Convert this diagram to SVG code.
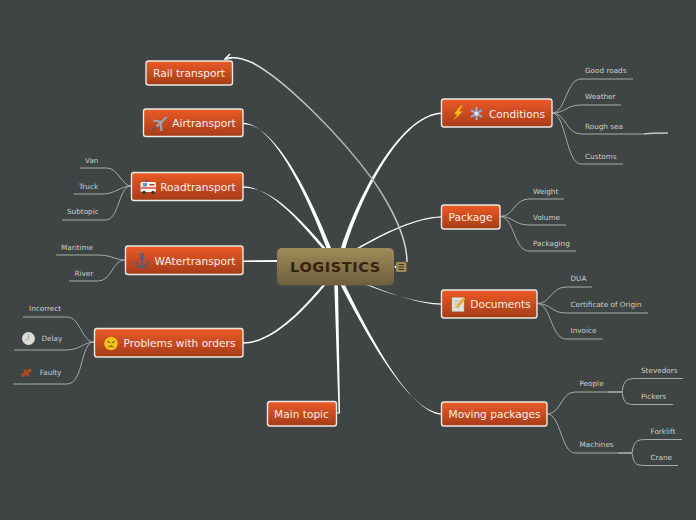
<svg xmlns="http://www.w3.org/2000/svg" width="696" height="520" viewBox="0 0 696 520">
<style>
text{font-family:"DejaVu Sans",Verdana,sans-serif}
.t{font-size:10.6px;fill:#f6eee8;text-anchor:middle}
.s{font-size:7.25px;fill:#cfcfca}
.b{fill:url(#o);stroke:#e9e9e4;stroke-width:1.4}
.m{fill:#fff}
.l{fill:none;stroke:#a9aaa7;stroke-width:1}
.l2{fill:none;stroke:#c8c8c5;stroke-width:1.3}
</style>
<defs>
<linearGradient id="o" x1="0" y1="0" x2="0" y2="1"><stop offset="0" stop-color="#ec5a26"/><stop offset="1" stop-color="#a53c18"/></linearGradient>
<linearGradient id="c" x1="0" y1="0" x2="0" y2="1"><stop offset="0" stop-color="#a08a58"/><stop offset="1" stop-color="#6e5f3e"/></linearGradient>
<linearGradient id="r" gradientUnits="userSpaceOnUse" x1="226" y1="58" x2="407" y2="262"><stop offset="0" stop-color="#ffffff"/><stop offset=".2" stop-color="#c4c6c4"/><stop offset=".7" stop-color="#a9abaa"/><stop offset="1" stop-color="#dcdddc"/></linearGradient>
</defs>
<rect width="696" height="520" fill="#3f4444"/>
<g id="connectors">
<path class="m" d="M243 122.800C272 123.500 305 190 326.500 248L331 248C307.500 189 273 122.500 243 124.400Z"/>
<path class="m" d="M243 186.300C270 186.800 300 222 322 248L325.500 248C302 221 271 185.800 243 187.900Z"/>
<path class="m" d="M243 260.400L277 260L277 262L243 261.900Z"/>
<path class="m" d="M243 342.200C270 342.800 300 312 322.500 285L325.500 285C302 313 271 344 243 343.700Z"/>
<path class="m" d="M334.300 285L338.600 412.500H336V413.600H340L338 285Z"/>
<path class="m" d="M441.500 112.600C405 114 364 180 341 248L345.500 248C367 180 406 115 441.500 113.900Z"/>
<path class="m" d="M441.500 216.200C415 217.500 385 232 357 248L360 248C387 233 415 218.500 441.500 217.500Z"/>
<path class="m" d="M441.500 303.400C420 303.500 390 294 366 285L369 285C391 293.500 420 304.500 441.500 304.800Z"/>
<path class="m" d="M441.500 413.400C408 411 367 335 340.500 285L345 285C369 334 409 412 441.500 414.800Z"/>
<path d="M226 58.500C232 57 240 57 253 63C285 80 340 135 373 180C390 205 407 235 407 262" fill="none" stroke="url(#r)" stroke-width="1.500"/>
<path d="M224.500 59.500L230 54M224.500 59.500L232 57.500" fill="none" stroke="#fff" stroke-width="1.500"/>
<path class="m" d="M394 267L397 264.500V269Z"/>
<g id="sub-left">
<path class="l" d="M131 186C122 186 118 168 107 168H80"/>
<path class="l" d="M131 186C120 186 116 194 102 194H74"/>
<path class="l" d="M131 186C118 186 120 220 105 220H62"/>
<path class="l" d="M125 260C115 260 112 255 98 255H56"/>
<path class="l" d="M125 260C112 260 112 281 98 281H69"/>
<path class="l" d="M94 342C82 342 80 317 67 317H23"/>
<path class="l" d="M94 342C84 342 80 350 66 350H14"/>
<path class="l" d="M94 342C80 342 84 384 67 384H13"/>
</g>
<g id="sub-right">
<path class="l" d="M552 113C566 113 566 79 581 79H633"/>
<path class="l" d="M552 113C566 113 566 105 581 105H621"/>
<path class="l" d="M552 113C566 113 566 134 581 134H644"/>
<path class="l2" d="M644 134C652 133 658 133 668 133"/>
<path class="l" d="M552 113C566 113 566 164 581 164H623"/>
<path class="l" d="M500 216.500C514 216.500 514 199 529 199H564"/>
<path class="l" d="M500 216.500C514 216.500 514 225 529 225H566"/>
<path class="l" d="M500 216.500C514 216.500 514 251 529 251H576"/>
<path class="l" d="M537 303.500C551 303.500 551 287 566 287H592"/>
<path class="l" d="M537 303.500C551 303.500 551 313 566 313H648"/>
<path class="l" d="M537 303.500C551 303.500 551 339 566 339H603"/>
<path class="l" d="M547 414C561 414 561 392 575 392H608"/>
<path class="l2" d="M608 392H622"/>
<path class="l" d="M547 414C561 414 561 453 575 453H618"/>
<path class="l2" d="M618 453H632"/>
<path class="l" d="M622 392C624 380 626 378.500 637 378.500H683"/>
<path class="l" d="M622 392C624 404 626 404.500 637 404.500H673"/>
<path class="l" d="M632 453C634 441 636 439.500 647 439.500H682"/>
<path class="l" d="M632 453C634 465 636 465.500 647 465.500H678"/>
</g>
</g>
<g id="logistics"><rect x="277" y="248" width="117" height="37.500" rx="5" fill="url(#c)"/><text x="335.500" y="272" text-anchor="middle" style="font-size:14.500px;font-weight:700;fill:#3a2010;letter-spacing:.6px">LOGISTICS</text>
<rect x="396" y="262" width="10.500" height="10" rx="1.500" fill="#a08a58"/><path d="M398.500 264.500h5.500M398.500 267h5.500M398.500 269.500h5.500" stroke="#3a2a14" stroke-width=".9"/></g>
<g id="rail"><rect class="b" x="146" y="61" width="86.500" height="24" rx="2.500"/><text class="t" x="189" y="77">Rail transport</text></g>
<g id="air"><rect class="b" x="143.500" y="109" width="99.500" height="27.500" rx="2.500"/><text class="t" x="204" y="127">Airtransport</text>
<path d="M166.500 117 156 127M153 120.500l10 1.500M160.500 123l1 8" fill="none" stroke="#9ca6ad" stroke-width="2.200"/><path d="M152.500 130l4-3.500" stroke="#46586a" stroke-width="1.500"/></g>
<g id="road"><rect class="b" x="131.500" y="172.500" width="111.500" height="28" rx="2.500"/><text class="t" x="198" y="191">Roadtransport</text>
<rect x="140.500" y="182" width="15.500" height="10" rx="1.500" fill="#f0f0ee"/><path d="M140.500 188h15.500" stroke="#d8352a" stroke-width="1.300"/><rect x="143" y="183" width="4" height="3.500" fill="#6d93bd"/><rect x="149.500" y="184" width="5" height="1.500" fill="#d8352a"/><circle cx="144" cy="192.500" r="1.700" fill="#333"/><circle cx="153" cy="192.500" r="1.700" fill="#333"/><rect x="145" y="180" width="3" height="2" fill="#3b5fb0"/></g>
<g id="water"><rect class="b" x="125.500" y="246" width="117.500" height="28.500" rx="2.500"/><text class="t" x="195" y="265">WAtertransport</text>
<path d="M142 256v11M136 261c0 8.500 12 8.500 12 0" fill="none" stroke="#41608a" stroke-width="1.700"/><circle cx="142" cy="255" r="1.600" fill="none" stroke="#41608a" stroke-width="1.200"/><path d="M139 258.500h6" stroke="#41608a" stroke-width="1.200"/></g>
<g id="problems"><rect class="b" x="94.500" y="328.500" width="148.500" height="28.500" rx="2.500"/><text class="t" x="179.500" y="347">Problems with orders</text>
<circle cx="111" cy="343.500" r="6.800" fill="#f2c21c"/><path d="M107.500 341.500l2.500 1M114.500 341.500l-2.500 1M108.500 347c1.500-1.300 3.500-1.300 5 0" stroke="#5a3a10" stroke-width="1" fill="none"/></g>
<g id="main-topic"><rect class="b" x="267.500" y="401.500" width="69" height="24.500" rx="2.500"/><text class="t" x="301.500" y="418">Main topic</text></g>
<g id="conditions"><rect class="b" x="441.500" y="99" width="110.500" height="28" rx="2.500"/><text class="t" x="517" y="118">Conditions</text>
<path d="M461 105.500 454 114h3.500L453.500 120.500l9-9h-3.500l3.500-6Z" fill="#f7c41f" stroke="#e8801c" stroke-width=".5"/>
<path d="M476.500 107v13M470.900 110.200l11.200 6.600M482.100 110.200l-11.200 6.600" stroke="#8fb0dc" stroke-width="2"/><circle cx="476.500" cy="113.500" r="2" fill="#dfe8f4"/></g>
<g id="package"><rect class="b" x="441.500" y="205" width="58.500" height="24" rx="2.500"/><text class="t" x="470.500" y="221">Package</text></g>
<g id="documents"><rect class="b" x="441.500" y="290" width="95.500" height="28" rx="2.500"/><text class="t" x="500.500" y="308">Documents</text>
<rect x="452" y="297.500" width="12" height="14" fill="#e3e3dc" stroke="#aaa" stroke-width=".4"/><path d="M454 301h7M454 304h7M454 307h5" stroke="#999" stroke-width=".6"/><path d="M457 307.500 464.500 298" stroke="#e8a820" stroke-width="2.200"/></g>
<g id="moving"><rect class="b" x="441.500" y="402" width="105.500" height="24" rx="2.500"/><text class="t" x="494.500" y="418">Moving packages</text></g>
<g id="labels">
<text class="s" x="85" y="163">Van</text><text class="s" x="79" y="189">Truck</text><text class="s" x="67" y="214">Subtopic</text>
<text class="s" x="61" y="250">Maritime</text><text class="s" x="74.500" y="276">River</text>
<text class="s" x="29" y="311">Incorrect</text><text class="s" x="41.500" y="341">Delay</text><text class="s" x="39.700" y="375">Faulty</text>
<circle cx="28.500" cy="338.500" r="6.500" fill="#dcdcd8"/><path d="M28.500 334v4.500l-3 2" stroke="#888" stroke-width=".7" fill="none"/>
<path d="M21.500 376 31 369.500" stroke="#a84a22" stroke-width="3.500"/><path d="M24 369.500l5 7" stroke="#a84a22" stroke-width="2"/><path d="M31 369l3.500-4" stroke="#444" stroke-width="1.500"/>
<text class="s" x="585" y="73">Good roads</text><text class="s" x="585" y="99">Weather</text><text class="s" x="585" y="129">Rough sea</text><text class="s" x="585" y="159">Customs</text>
<text class="s" x="533" y="194">Weight</text><text class="s" x="533" y="220">Volume</text><text class="s" x="533" y="246">Packaging</text>
<text class="s" x="570.500" y="281">DUA</text><text class="s" x="570.500" y="307">Certificate of Origin</text><text class="s" x="570.500" y="333">Invoice</text>
<text class="s" x="579.500" y="386">People</text><text class="s" x="579.500" y="447">Machines</text>
<text class="s" x="641" y="373">Stevedors</text><text class="s" x="641" y="399">Pickers</text><text class="s" x="650.500" y="434">Forklift</text><text class="s" x="650.500" y="460">Crane</text>
</g>
</svg>
